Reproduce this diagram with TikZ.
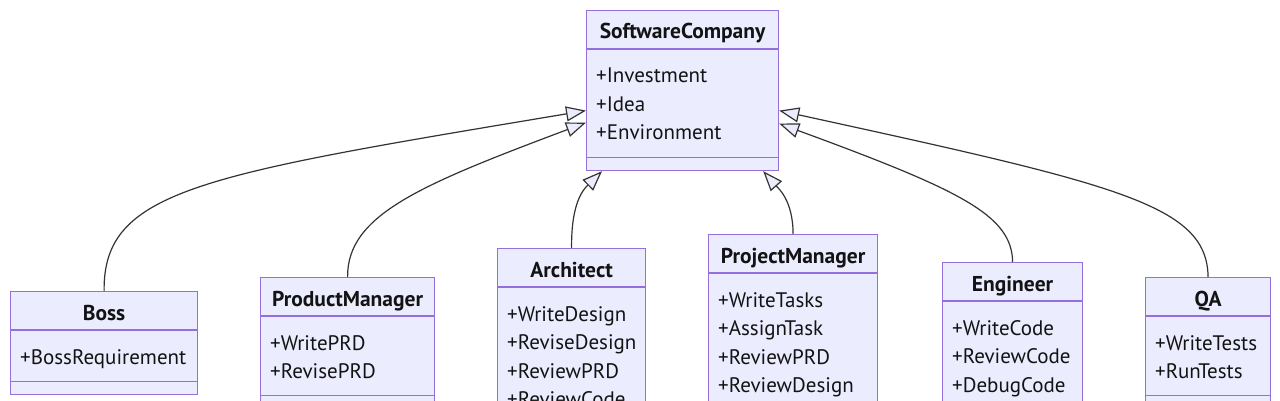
\documentclass[tikz,border=0pt]{standalone}
\usepackage{fontspec}
\setmainfont{PT Sans}
\usetikzlibrary{arrows.meta}
\definecolor{boxfill}{HTML}{ECECFF}
\definecolor{boxline}{HTML}{9370DB}
\definecolor{edgecol}{HTML}{333333}
\definecolor{txtcol}{HTML}{131313}
\tikzset{
  classbox/.style={draw=boxline, fill=boxfill, line width=1.2pt, rectangle, inner sep=0pt, anchor=north west},
  divider/.style={draw=boxline, line width=1.2pt},
  ctitle/.style={font=\bfseries\fontsize{21.5}{24}\selectfont, anchor=base, inner sep=0pt, text=txtcol},
  cmember/.style={font=\fontsize{21}{24}\selectfont, anchor=base west, inner sep=0pt, text=txtcol},
  inherit/.style={draw=edgecol, line width=1.2pt, -{Triangle[length=20pt,width=15pt,fill=boxfill]}},
}
% #1 name, #2 x, #3 y, #4 width, #5 number of members, #6 title, #7 members
\newcommand{\mkclass}[7]{%
  \pgfmathsetmacro\hh{103+(#5-1)*28.5}%
  \node[classbox, minimum width=#4pt, minimum height=\hh pt] (#1) at (#2,#3) {};
  \node[ctitle] (#1-t) at ([yshift=-29pt]#1.north) {#6};
  \draw[divider] ([yshift=-39pt]#1.north west) -- ([yshift=-39pt]#1.north east);
  \draw[divider] ([yshift=14pt]#1.south west) -- ([yshift=14pt]#1.south east);
  \foreach \m [count=\i] in {#7} {%
    \pgfmathsetmacro\yy{-73-(\i-1)*28.5}%
    \node[cmember] (#1-m\i) at ([xshift=10pt,yshift=\yy pt]#1.north west) {\m};
  }%
}
\begin{document}
\begin{tikzpicture}[x=1pt,y=-1pt]
  \fill[white] (0,0) rectangle (1280,401);
  \useasboundingbox (0,0) rectangle (1280,401);
  \clip (0,0) rectangle (1280,401);
  \mkclass{sc}{586}{10}{192}{3}{SoftwareCompany}{+Investment,+Idea,+Environment}
  \mkclass{boss}{10}{291}{187}{1}{Boss}{+BossRequirement}
  \mkclass{pm}{260}{277}{174}{2}{ProductManager}{+WritePRD,+RevisePRD}
  \mkclass{arch}{497}{248}{148}{4}{Architect}{+WriteDesign,+ReviseDesign,+ReviewPRD,+ReviewCode}
  \mkclass{pjm}{708}{234}{169}{4}{ProjectManager}{+WriteTasks,+AssignTask,+ReviewPRD,+ReviewDesign}
  \mkclass{eng}{942}{262}{140}{3}{Engineer}{+WriteCode,+ReviewCode,+DebugCode}
  \mkclass{qa}{1145}{277}{125}{2}{QA}{+WriteTests,+RunTests}
  \coordinate (sc-boss) at ([yshift=-20pt]sc.west);
  \coordinate (sc-pm) at ([yshift=-32pt]sc.west);
  \coordinate (sc-qa) at ([yshift=-20pt]sc.east);
  \coordinate (sc-eng) at ([yshift=-33pt]sc.east);
  \coordinate (sc-arch) at ([xshift=16pt]sc.south west);
  \coordinate (sc-pjm) at ([xshift=-16pt]sc.south east);
  \draw[inherit] (boss.north) .. controls (103,190) and (200,175) .. (sc-boss);
  \draw[inherit] (pm.north) .. controls (347,215) and (420,185) .. (sc-pm);
  \draw[inherit] (arch.north) .. controls (571,200) and (585,188) .. (sc-arch);
  \draw[inherit] (pjm.north) .. controls (793,200) and (778,188) .. (sc-pjm);
  \draw[inherit] (eng.north) .. controls (1012,215) and (960,190) .. (sc-eng);
  \draw[inherit] (qa.north) .. controls (1207,205) and (1120,185) .. (sc-qa);
\end{tikzpicture}
\end{document}
